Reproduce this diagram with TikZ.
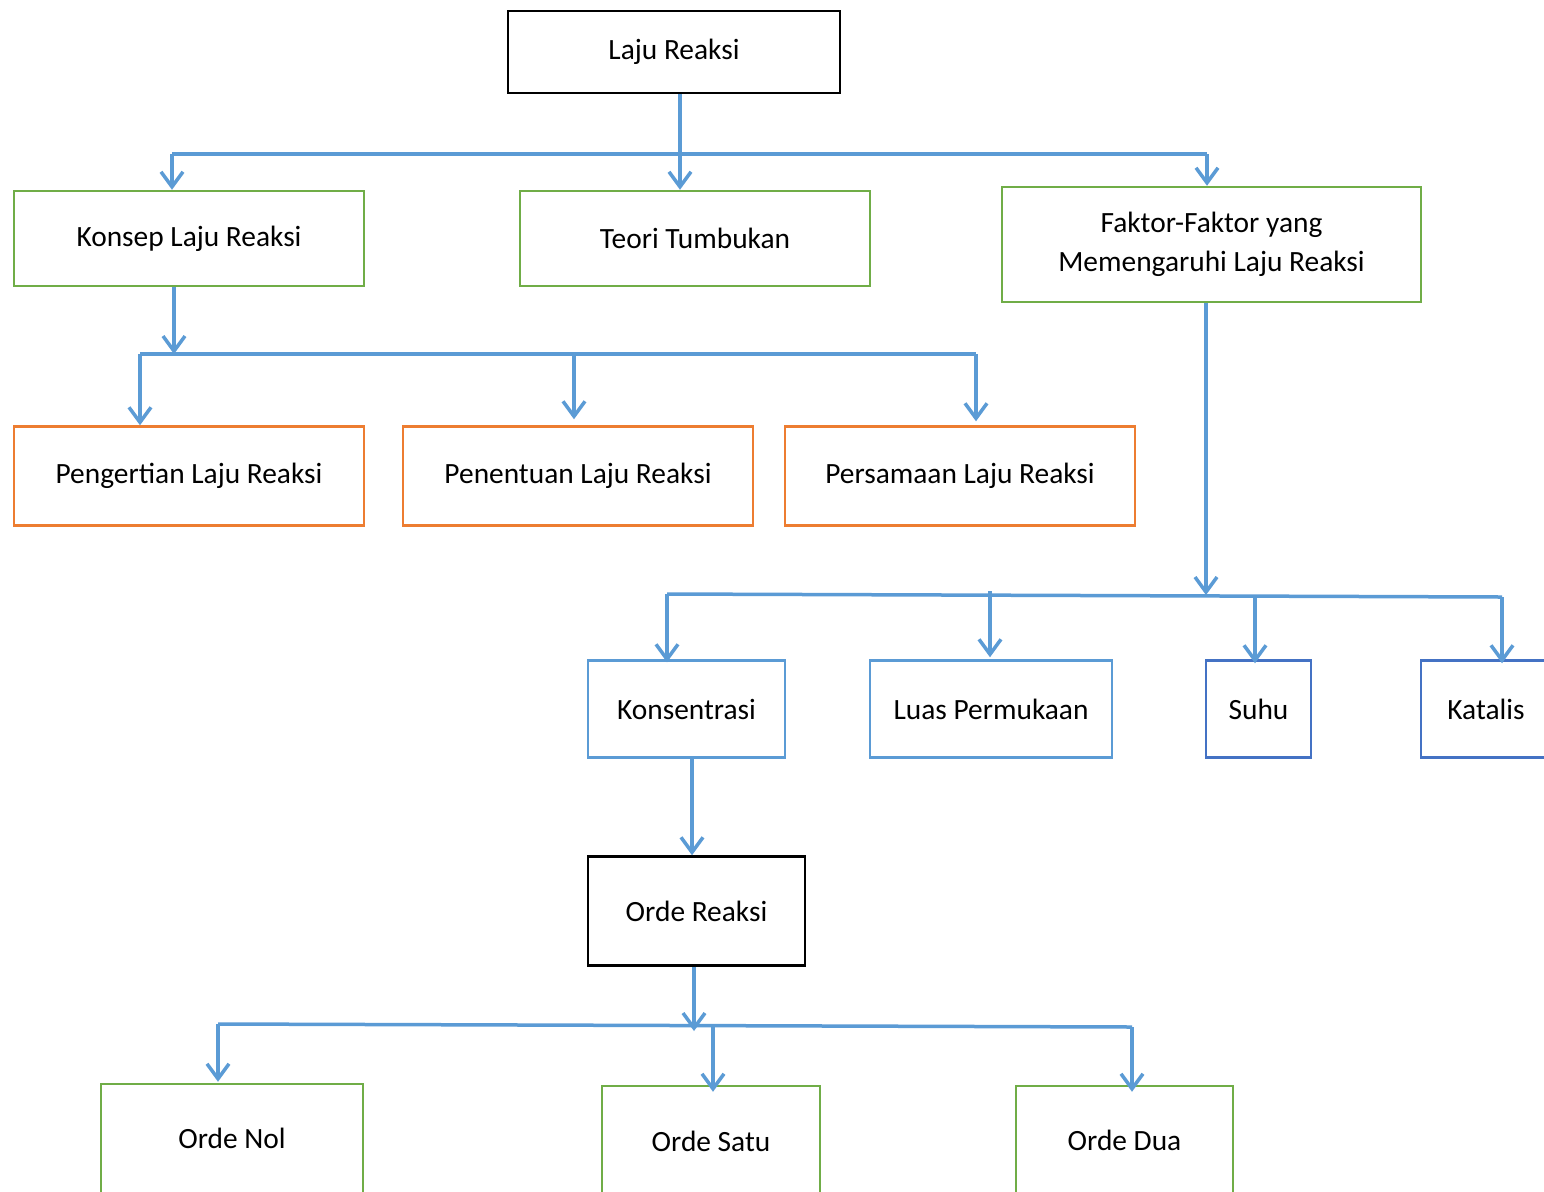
\documentclass[tikz,border=0pt]{standalone}
\usepackage{fontspec}
\setmainfont{Carlito}
\usepackage{tikz}
\usetikzlibrary{arrows.meta, positioning}

\definecolor{lineblue}{RGB}{91,155,213}
\definecolor{boxgreen}{RGB}{112,173,71}
\definecolor{boxorange}{RGB}{237,125,49}
\definecolor{boxblue}{RGB}{68,114,196}

\begin{document}
\begin{tikzpicture}[x=0.5pt, y=-0.5pt,
    every node/.style={font=\fontsize{14.7}{17.6}\selectfont},
    box/.style={draw, line width=1.25pt, rectangle, align=center, inner sep=0pt},
    link/.style={lineblue, line width=1.75pt},
    arr/.style={link, -{Straight Barb[length=7.5pt, width=11pt, line width=1.75pt]}}]
    % Page
    \path[use as bounding box, fill=white] (0,0) rectangle (1544,1191);
    \clip (0,0) rectangle (1544,1191);

    % Top level
    \node[box, black, minimum width=166pt, minimum height=41pt] (laju) at (674,52) {Laju Reaksi};

    % Second level
    \node[box, boxgreen, text=black, minimum width=175pt, minimum height=47.5pt] (konsep) at (189,238.5) {Konsep Laju Reaksi};
    \node[box, boxgreen, text=black, minimum width=175pt, minimum height=47.5pt] (teori) at (695,238.5) {Teori Tumbukan};
    \node[box, boxgreen, text=black, minimum width=209.5pt, minimum height=57.5pt] (faktor) at (1211.5,244.5) {Faktor-Faktor yang\\[2pt]Memengaruhi Laju Reaksi};

    % Parts of Konsep Laju Reaksi
    \node[box, boxorange, text=black, minimum width=175pt, minimum height=49.5pt] (pengertian) at (189,476) {Pengertian Laju Reaksi};
    \node[box, boxorange, text=black, minimum width=175pt, minimum height=49.5pt] (penentuan) at (578,476) {Penentuan Laju Reaksi};
    \node[box, boxorange, text=black, minimum width=175pt, minimum height=49.5pt] (persamaan) at (960,476) {Persamaan Laju Reaksi};

    % Factors
    \node[box, lineblue, text=black, minimum width=98.5pt, minimum height=48.5pt] (konsentrasi) at (686.5,709) {Konsentrasi};
    \node[box, lineblue, text=black, minimum width=121pt, minimum height=48.5pt] (luas) at (991,709) {Luas Permukaan};
    \node[box, boxblue, text=black, minimum width=52.5pt, minimum height=48.5pt] (suhu) at (1258.5,709) {Suhu};
    \node[box, boxblue, text=black, minimum width=65pt, minimum height=48.5pt] (katalis) at (1486,709) {Katalis};

    % Orde Reaksi and its kinds (cut off at the bottom edge)
    \node[box, black, minimum width=108.5pt, minimum height=54.5pt] (orde) at (696.5,911) {Orde Reaksi};
    \node[box, boxgreen, text=black, minimum width=131pt, minimum height=58pt, text depth=4pt] (nol) at (232,1142) {Orde Nol};
    \node[box, boxgreen, text=black, minimum width=109pt, minimum height=58pt, text depth=3pt] (satu) at (711,1144) {Orde Satu};
    \node[box, boxgreen, text=black, minimum width=108.5pt, minimum height=58pt, text depth=4pt] (dua) at (1124.5,1144) {Orde Dua};

    % Branch points
    \coordinate (a0) at (680,154);
    \coordinate (a1) at (172,154);
    \coordinate (a2) at (1207,154);
    \coordinate (b0) at (174,354);
    \coordinate (b1) at (140,354);
    \coordinate (b2) at (574,352);
    \coordinate (b3) at (976,354);
    \coordinate (c0) at (1206,595);
    \coordinate (c1) at (667,594);
    \coordinate (c2) at (990,591);
    \coordinate (c3) at (1255,596);
    \coordinate (c4) at (1502,597);
    \coordinate (d0) at (694,1031);
    \coordinate (d1) at (218,1024);
    \coordinate (d2) at (713,1027);
    \coordinate (d3) at (1132,1027);

    % Laju Reaksi -> second level
    \draw[arr] (a0 |- laju.south) -- (a0 |- teori.north);
    \draw[link] (a1) -- (a2);
    \draw[arr] (a1) -- (a1 |- konsep.north);
    \draw[arr] (a2) -- (a2 |- faktor.north);

    % Konsep Laju Reaksi -> parts
    \draw[arr] (b0 |- konsep.south) -- (b0);
    \draw[link] (b1) -- (b3);
    \draw[arr] (b1) -- (b1 |- pengertian.north);
    \draw[arr] (b2) -- ([yshift=3pt]b2 |- penentuan.north);
    \draw[arr] (b3) -- ([yshift=2pt]b3 |- persamaan.north);

    % Faktor -> factors
    \draw[arr] (c0 |- faktor.south) -- (c0);
    \draw[link] (c1) -- (c4);
    \draw[arr] (c1) -- ([yshift=-1.5pt]c1 |- konsentrasi.north);
    \draw[arr] (c2) -- ([yshift=1pt]c2 |- luas.north);
    \draw[arr] (c3) -- ([yshift=-2pt]c3 |- suhu.north);
    \draw[arr] (c4) -- ([yshift=-2pt]c4 |- katalis.north);

    % Konsentrasi -> Orde Reaksi
    \draw[arr] (konsentrasi.south -| 692,0) -- (orde.north -| 692,0);

    % Orde Reaksi -> kinds
    \draw[arr] (d0 |- orde.south) -- (d0);
    \draw[link] (d1) -- (d3);
    \draw[arr] (d1) -- ([yshift=0.5pt]d1 |- nol.north);
    \draw[arr] (d2) -- ([yshift=-3.5pt]d2 |- satu.north);
    \draw[arr] (d3) -- ([yshift=-3.5pt]d3 |- dua.north);
\end{tikzpicture}
\end{document}
